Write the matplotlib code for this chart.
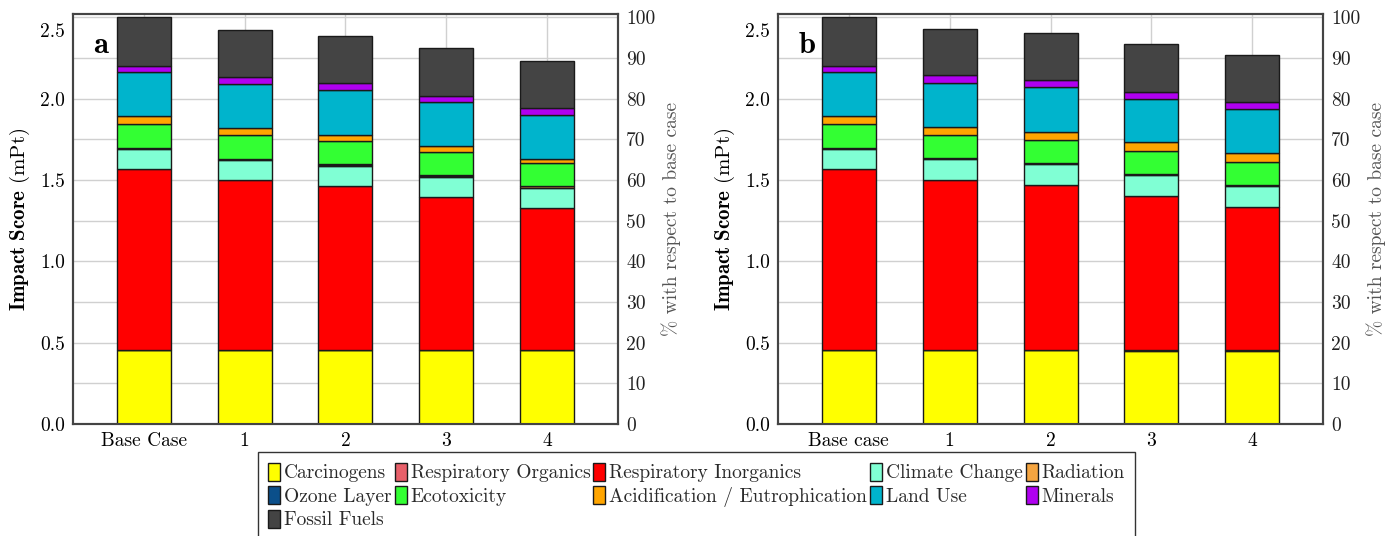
import matplotlib.pyplot as plt
import matplotlib.transforms as mtransforms
import numpy as np

plt.rcParams['font.family'] = ['cmr10', 'DejaVu Serif']
plt.rcParams['mathtext.fontset'] = 'cm'
plt.rcParams['axes.formatter.use_mathtext'] = True

# impact categories, stacked bottom -> top
categories = ['Carcinogens', 'Respiratory Organics', 'Respiratory Inorganics',
              'Climate Change', 'Radiation', 'Ozone Layer', 'Ecotoxicity',
              'Acidification / Eutrophication', 'Land Use', 'Minerals',
              'Fossil Fuels']
colors = ['#FFFF00', '#E8606A', '#FF0000', '#80FFD4', '#F5A540', '#0B4F8A',
          '#33FF33', '#FFA500', '#00B4CC', '#B000F0', '#444444']

labels_a = ['Base Case', '1', '2', '3', '4']
labels_b = ['Base case', '1', '2', '3', '4']

# rows = categories, columns = scenarios (mPt)
values_a = np.array([
    [0.455, 0.455, 0.455, 0.455, 0.455],
    [0.002, 0.002, 0.002, 0.002, 0.002],
    [1.111, 1.041, 1.008, 0.938, 0.869],
    [0.123, 0.125, 0.123, 0.125, 0.127],
    [0.006, 0.006, 0.006, 0.007, 0.008],
    [0.001, 0.001, 0.001, 0.001, 0.001],
    [0.143, 0.144, 0.146, 0.141, 0.139],
    [0.051, 0.047, 0.037, 0.039, 0.029],
    [0.270, 0.268, 0.272, 0.268, 0.267],
    [0.041, 0.045, 0.043, 0.041, 0.043],
    [0.296, 0.287, 0.291, 0.291, 0.293],
])

values_b = np.array([
    [0.455, 0.455, 0.455, 0.451, 0.451],
    [0.002, 0.002, 0.002, 0.002, 0.002],
    [1.111, 1.043, 1.010, 0.949, 0.883],
    [0.123, 0.127, 0.129, 0.127, 0.129],
    [0.006, 0.006, 0.005, 0.007, 0.005],
    [0.001, 0.001, 0.001, 0.001, 0.001],
    [0.143, 0.142, 0.144, 0.143, 0.142],
    [0.051, 0.051, 0.049, 0.050, 0.053],
    [0.270, 0.270, 0.273, 0.270, 0.268],
    [0.041, 0.047, 0.043, 0.043, 0.043],
    [0.296, 0.285, 0.289, 0.291, 0.291],
])

fig = plt.figure(figsize=(13.97, 5.36), dpi=100)
ax_a = fig.add_axes([0.0523, 0.209, 0.390, 0.765])
ax_b = fig.add_axes([0.557, 0.209, 0.390, 0.765])

ytop = 2.52
bars = []
for ax, vals, labs, tag in [(ax_a, values_a, labels_a, 'a'), (ax_b, values_b, labels_b, 'b')]:
    x = np.arange(len(labs))
    bottom = np.zeros(len(labs))
    bars = []
    for i, cat in enumerate(categories):
        b = ax.bar(x, vals[i], 0.535, bottom=bottom, color=colors[i],
                   edgecolor='#1a1a1a', linewidth=1.0, label=cat, zorder=3)
        bars.append(b)
        bottom = bottom + vals[i]
    base_total = vals[:, 0].sum()

    ax.set_xlim(-0.7, 4.7)
    ax.set_ylim(0, ytop)
    ax.set_xticks(x)
    ax.set_xticklabels(labs, fontsize=14)
    yt = np.arange(0, 2.51, 0.5)
    ax.set_yticks(yt)
    ax.set_yticklabels(['%.1f' % v for v in yt], fontsize=14)
    ax.set_yticks(np.arange(0, 2.51, 0.25), minor=True)
    ax.grid(True, which='both', axis='y', color='#d0d0d0', linewidth=1.0, zorder=0)
    ax.grid(True, which='major', axis='x', color='#d0d0d0', linewidth=1.0, zorder=0)
    ax.set_axisbelow(True)
    ax.tick_params(which='both', length=0, pad=6)
    # top label sits a bit lower in the original
    top_lab = ax.get_yticklabels()[-1]
    top_lab.set_transform(top_lab.get_transform() +
                          mtransforms.ScaledTranslation(0, -13 / 100, fig.dpi_scale_trans))
    ax.set_ylabel(r'$\mathbf{Impact\ Score}$ (mPt)', fontsize=15, labelpad=6)
    for s in ax.spines.values():
        s.set_color('#444444')
        s.set_linewidth(1.5)
    ax.text(0.037, 0.922, tag, transform=ax.transAxes, fontsize=22,
            fontweight='bold', family='cmb10', va='center', ha='left')

    ax2 = ax.twinx()
    ax2.set_ylim(0, ytop / base_total * 100)
    ax2.set_yticks(np.arange(0, 101, 10))
    ax2.set_yticklabels([str(v) for v in range(0, 101, 10)], fontsize=14, color='#222222')
    ax2.tick_params(length=0, pad=6)
    ax2.set_ylabel('% with respect to base case', fontsize=14, color='#555555', labelpad=4)
    for s in ax2.spines.values():
        s.set_color('#444444')
        s.set_linewidth(1.5)

# legend reads row by row; matplotlib fills columns, so reorder
order = [0, 5, 10, 1, 6, 2, 7, 3, 8, 4, 9]
leg = fig.legend([bars[i] for i in order], [categories[i] for i in order],
                 loc='upper center', bbox_to_anchor=(0.4986, 0.157),
                 ncol=5, fontsize=14, frameon=True, fancybox=False,
                 edgecolor='black', handlelength=0.62, handleheight=1.05,
                 handletextpad=0.2, columnspacing=0.15, labelspacing=0.2,
                 borderpad=0.55, borderaxespad=0, labelcolor='#2a2a2a')
leg.get_frame().set_linewidth(1.0)

fig.savefig('out.png', dpi=100)
